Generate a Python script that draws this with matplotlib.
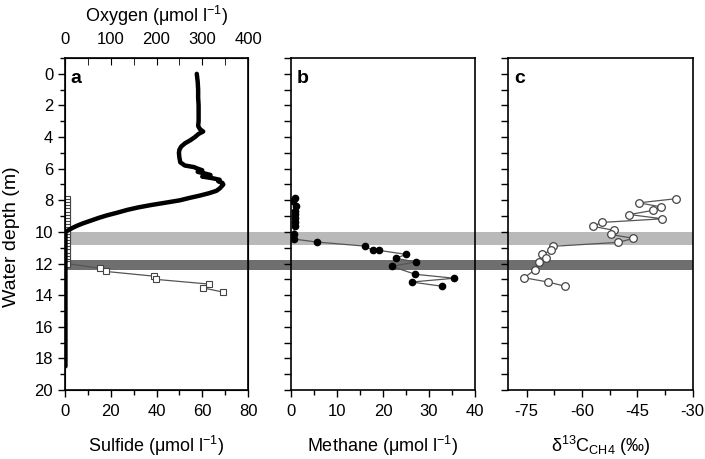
import matplotlib
matplotlib.use("Agg")
import matplotlib.pyplot as plt
from matplotlib.patches import Rectangle
from matplotlib.transforms import blended_transform_factory
from matplotlib.ticker import MultipleLocator

plt.rcParams['font.family'] = ['Liberation Sans', 'DejaVu Sans']
plt.rcParams['mathtext.fontset'] = 'custom'
plt.rcParams['mathtext.rm'] = 'Liberation Sans'
plt.rcParams['mathtext.it'] = 'Liberation Sans'
plt.rcParams['axes.unicode_minus'] = False

# ---- data ----
oxy_depth = [0.0, 0.5, 1.0, 1.5, 2.0, 2.5, 3.0, 3.3, 3.5, 3.65, 3.8, 4.0, 4.2, 4.4, 4.6, 4.8,
             5.0, 5.3, 5.6, 5.8, 5.9, 6.0, 6.1, 6.2, 6.3, 6.4, 6.5, 6.6, 6.7, 6.8, 6.9, 7.0,
             7.1, 7.25, 7.4, 7.55, 7.7, 7.85, 8.0, 8.15, 8.3, 8.45, 8.6, 8.8, 8.95, 9.1, 9.3,
             9.45, 9.6, 9.75, 9.9, 10.0, 10.5, 11.0, 11.5, 12.0, 12.5, 13.0, 13.5, 14.0, 14.5,
             15.0, 15.5, 16.0, 16.5, 17.0, 17.5, 18.0, 18.5]
oxy_val = [288, 290, 291, 291, 292, 292, 292, 291, 295, 302, 292, 284, 274, 262, 254, 250,
           249, 250, 252, 262, 282, 290, 300, 290, 305, 318, 300, 322, 338, 335, 344, 346,
           343, 338, 331, 315, 295, 272, 251, 220, 188, 160, 137, 112, 92, 75, 55,
           40, 27, 16, 7, 1, 1, 1, 1, 1, 1, 1, 1, 1, 1,
           1, 1, 1, 1, 1, 1, 1, 1]

sulf_depth = [7.9, 8.1, 8.3, 8.5, 8.7, 8.9, 9.1, 9.3, 9.5, 9.7, 9.9, 10.1, 10.3, 10.5, 10.7,
              10.9, 11.1, 11.3, 11.5, 11.7, 11.9, 12.0, 12.3, 12.5, 12.8, 13.0, 13.3, 13.55, 13.8]
sulf_val = [1.0, 1.0, 1.0, 1.0, 1.0, 1.0, 1.0, 1.0, 1.0, 1.0, 1.0, 1.0, 1.0, 1.0, 1.0,
            1.0, 1.0, 1.0, 1.0, 1.0, 1.0, 1.0, 15.3, 17.8, 39.0, 39.6, 63.0, 60.5, 69.0]

meth_depth = [7.85, 8.06, 8.34, 8.65, 8.87, 9.12, 9.4, 9.65, 10.13, 10.45, 10.64, 10.9,
              11.17, 11.17, 11.42, 11.67, 11.9, 12.18, 12.68, 12.93, 13.17, 13.44]
meth_val = [0.8, 0.5, 1.0, 0.8, 0.9, 0.9, 0.8, 0.8, 0.6, 0.6, 5.6, 16.1,
            17.8, 19.2, 25.0, 22.8, 27.1, 21.9, 27.0, 35.5, 26.2, 32.9]

d13c_depth = [7.9, 8.16, 8.41, 8.64, 8.9, 9.17, 9.4, 9.65, 9.9, 10.16, 10.41, 10.66,
              10.91, 11.17, 11.42, 11.67, 11.92, 12.4, 12.9, 13.17, 13.43]
d13c_val = [-34.6, -44.6, -38.7, -40.8, -47.2, -38.2, -54.7, -57.0, -51.3, -52.2, -46.1, -50.2,
            -67.8, -68.3, -70.9, -69.8, -71.7, -72.8, -75.7, -69.2, -64.7]

band_light = (10.0, 10.8)
band_dark = (11.8, 12.4)

FS = 12
LFS = 13
fig = plt.figure(figsize=(7.05, 4.59), dpi=100)

bottom, height = 0.1503, 0.7233
ax_a = fig.add_axes([0.0922, bottom, 0.2596, height])
ax_b = fig.add_axes([0.4128, bottom, 0.2610, height])
ax_c = fig.add_axes([0.7210, bottom, 0.2616, height])

for ax in (ax_a, ax_b, ax_c):
    ax.set_facecolor('none')
    ax.set_ylim(20, -1)
    ax.yaxis.set_major_locator(MultipleLocator(2))
    ax.yaxis.set_minor_locator(MultipleLocator(1))
    ax.tick_params(axis='both', which='major', direction='out', length=5, width=1,
                   labelsize=FS, colors='black')
    ax.tick_params(axis='x', which='major', pad=5)
    ax.tick_params(axis='both', which='minor', direction='out', length=3.5, width=1)
    for sp in ax.spines.values():
        sp.set_linewidth(1.2)

# gray bands across all panels
trans = blended_transform_factory(fig.transFigure, ax_a.transData)
x0 = 0.0922
x1 = 0.7210 + 0.2616
fig.add_artist(Rectangle((x0, band_light[0]), x1 - x0, band_light[1] - band_light[0],
                         transform=trans, facecolor='#b9b9b9', edgecolor='none', zorder=-1))
fig.add_artist(Rectangle((x0, band_dark[0]), x1 - x0, band_dark[1] - band_dark[0],
                         transform=trans, facecolor='#6f6f6f', edgecolor='none', zorder=-1))

# panel a: sulfide (bottom) and oxygen (top)
ax_a.set_xlim(0, 80)
ax_a.xaxis.set_major_locator(MultipleLocator(20))
ax_a.xaxis.set_minor_locator(MultipleLocator(10))
ax_a.plot(sulf_val, sulf_depth, '-', color='#555555', lw=0.9, marker='s', ms=4,
          mfc='white', mec='#444444', mew=0.8, zorder=3)
ax_a.set_xlabel('Sulfide (μmol l$^{-1}$)', fontsize=LFS, labelpad=11)
ax_a.set_ylabel('Water depth (m)', fontsize=14, labelpad=3)
ax_a.yaxis.set_label_coords(-0.245, 0.462)
ax_a.text(0.03, 0.965, 'a', transform=ax_a.transAxes, fontsize=FS + 2,
          fontweight='bold', va='top', ha='left')

ax_o = ax_a.twiny()
ax_o.set_facecolor('none')
ax_o.set_xlim(0, 400)
ax_o.set_ylim(20, -1)
ax_o.xaxis.set_major_locator(MultipleLocator(100))
ax_o.xaxis.set_minor_locator(MultipleLocator(50))
ax_o.tick_params(axis='x', which='major', direction='in', length=5, labelsize=FS, pad=8)
ax_o.tick_params(axis='x', which='minor', direction='in', length=5)
ax_o.plot(oxy_val, oxy_depth, '-', color='black', lw=3.2, solid_joinstyle='round',
          solid_capstyle='round', zorder=4)
ax_o.set_xlabel('Oxygen (μmol l$^{-1}$)', fontsize=LFS, labelpad=7)

# panel b: methane
ax_b.set_xlim(0, 40)
ax_b.xaxis.set_major_locator(MultipleLocator(10))
ax_b.xaxis.set_minor_locator(MultipleLocator(5))
ax_b.yaxis.set_major_locator(MultipleLocator(1))
ax_b.yaxis.set_minor_locator(MultipleLocator(1))
ax_b.tick_params(axis='y', labelleft=False)
ax_b.plot(meth_val, meth_depth, '-', color='#555555', lw=0.9, marker='o', ms=4.5,
          mfc='black', mec='black', zorder=3)
ax_b.set_xlabel('Methane (μmol l$^{-1}$)', fontsize=LFS, labelpad=11)
ax_b.text(0.03, 0.965, 'b', transform=ax_b.transAxes, fontsize=FS + 2,
          fontweight='bold', va='top', ha='left')

# panel c: delta 13C
ax_c.set_xlim(-80, -30)
ax_c.set_xticks([-75, -60, -45, -30])
ax_c.xaxis.set_minor_locator(MultipleLocator(7.5))
ax_c.yaxis.set_major_locator(MultipleLocator(1))
ax_c.yaxis.set_minor_locator(MultipleLocator(1))
ax_c.tick_params(axis='y', labelleft=False)
ax_c.plot(d13c_val, d13c_depth, '-', color='#555555', lw=0.9, marker='o', ms=5.5,
          mfc='white', mec='#444444', mew=0.9, zorder=3)
ax_c.set_xlabel('δ$^{13}$C$_{\\mathrm{CH4}}$ (‰)', fontsize=LFS, labelpad=11)
ax_c.text(0.03, 0.965, 'c', transform=ax_c.transAxes, fontsize=FS + 2,
          fontweight='bold', va='top', ha='left')

fig.savefig('out.png', dpi=100)
